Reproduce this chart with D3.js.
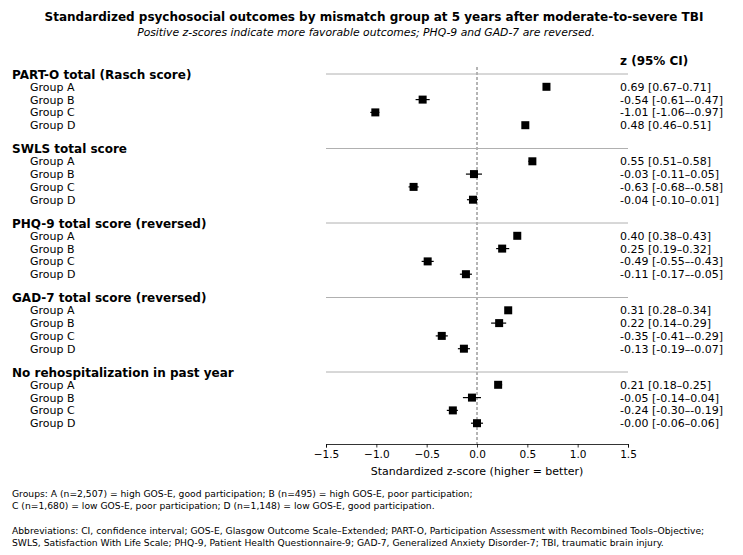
<!DOCTYPE html>
<html>
<head>
<meta charset="UTF-8">
<title>Forest plot</title>
<script src="https://cdn.jsdelivr.net/npm/d3@7"></script>
<style>
  body { margin: 0; background: #fff; }
  text { font-family: "DejaVu Sans", sans-serif; fill: #000; }
</style>
</head>
<body>
<div id="chart"></div>
<script>
var outcomes = ["PART-O total (Rasch score)", "SWLS total score", "PHQ-9 total score (reversed)",
  "GAD-7 total score (reversed)", "No rehospitalization in past year"];
var groups = ["Group A", "Group B", "Group C", "Group D"];
// z estimates per outcome, groups A-D
var zValues = [
  [0.69, -0.54, -1.01, 0.48],
  [0.55, -0.03, -0.63, -0.04],
  [0.40, 0.25, -0.49, -0.11],
  [0.31, 0.22, -0.35, -0.13],
  [0.21, -0.05, -0.24, -0.00]
];
var ciLow = [
  [0.67, -0.61, -1.06, 0.46],
  [0.51, -0.11, -0.68, -0.10],
  [0.38, 0.19, -0.55, -0.17],
  [0.28, 0.14, -0.41, -0.19],
  [0.18, -0.14, -0.30, -0.06]
];
var ciHigh = [
  [0.71, -0.47, -0.97, 0.51],
  [0.58, 0.05, -0.58, 0.01],
  [0.43, 0.32, -0.43, -0.05],
  [0.34, 0.29, -0.29, -0.07],
  [0.25, 0.04, -0.19, 0.06]
];
var xTicks = [-1.5, -1.0, -0.5, 0.0, 0.5, 1.0, 1.5];

var W = 743, H = 555;
var svg = d3.select("#chart").append("svg").attr("width", W).attr("height", H);

var x = d3.scaleLinear().domain([-1.5, 1.5]).range([326, 628]);
var sectionY = d3.scaleLinear().domain([0, 1]).range([74, 148.5]);
var rowStep = 12.8;

svg.append("text").attr("x", 374).attr("y", 21).attr("text-anchor", "middle")
  .style("font-weight", "bold").style("font-size", "12px")
  .text("Standardized psychosocial outcomes by mismatch group at 5 years after moderate-to-severe TBI");
svg.append("text").attr("x", 366).attr("y", 36).attr("text-anchor", "middle")
  .style("font-style", "italic").style("font-size", "10.8px")
  .text("Positive z-scores indicate more favorable outcomes; PHQ-9 and GAD-7 are reversed.");

svg.append("text").attr("x", 620).attr("y", 65).style("font-weight", "bold").style("font-size", "12px")
  .text("z (95% CI)");

// zero reference line
svg.append("line").attr("x1", x(0)).attr("x2", x(0)).attr("y1", 67).attr("y2", 444)
  .attr("stroke", "#444").attr("stroke-width", 0.8).attr("stroke-dasharray", "3,2");

outcomes.forEach(function(name, i) {
  var y0 = sectionY(i);
  svg.append("line").attr("x1", x(-1.5)).attr("x2", x(1.5)).attr("y1", y0).attr("y2", y0)
    .attr("stroke", "#b0b0b0").attr("stroke-width", 1);
  svg.append("text").attr("x", 12).attr("y", y0 + 4.5).style("font-weight", "bold").style("font-size", "12px").text(name);
  groups.forEach(function(g, j) {
    var y = y0 + rowStep * (j + 1);
    svg.append("text").attr("x", 30).attr("y", y + 4).style("font-size", "11px").text(g);
    svg.append("line").attr("x1", x(ciLow[i][j])).attr("x2", x(ciHigh[i][j])).attr("y1", y).attr("y2", y)
      .attr("stroke", "#000").attr("stroke-width", 1.2);
    svg.append("rect").attr("x", x(zValues[i][j]) - 4).attr("y", y - 4).attr("width", 8).attr("height", 8).attr("fill", "#000");
    var z = zValues[i][j];
    var zs = (i === 4 && j === 3) ? "-0.00" : z.toFixed(2);
    svg.append("text").attr("x", 620).attr("y", y + 4).style("font-size", "11px")
      .text(zs + " [" + ciLow[i][j].toFixed(2) + "\u2013" + ciHigh[i][j].toFixed(2) + "]");
  });
});

var axis = d3.axisBottom(x).tickValues(xTicks).tickSize(3.5).tickPadding(3.5)
  .tickFormat(function(d) { return d3.format(".1f")(d).replace("-", "\u2212"); });
var gAxis = svg.append("g").attr("transform", "translate(0,444)").call(axis);
gAxis.select(".domain").attr("stroke", "#000").attr("stroke-width", 0.8);
gAxis.selectAll(".tick line").attr("stroke", "#000").attr("stroke-width", 0.8);
gAxis.selectAll(".tick text").style("font-family", "DejaVu Sans").style("font-size", "10.5px").attr("fill", "#000");

svg.append("text").attr("x", x(0)).attr("y", 475).attr("text-anchor", "middle").style("font-size", "11px")
  .text("Standardized z-score (higher = better)");

var notes = [
  [12, 497, "Groups: A (n=2,507) = high GOS-E, good participation; B (n=495) = high GOS-E, poor participation;"],
  [12, 509, "C (n=1,680) = low GOS-E, poor participation; D (n=1,148) = low GOS-E, good participation."],
  [12, 534, "Abbreviations: CI, confidence interval; GOS-E, Glasgow Outcome Scale\u2013Extended; PART-O, Participation Assessment with Recombined Tools\u2013Objective;"],
  [12, 546, "SWLS, Satisfaction With Life Scale; PHQ-9, Patient Health Questionnaire-9; GAD-7, Generalized Anxiety Disorder-7; TBI, traumatic brain injury."]
];
svg.selectAll("text.note").data(notes).enter().append("text").attr("class", "note")
  .attr("x", function(d) { return d[0]; }).attr("y", function(d) { return d[1]; })
  .style("font-size", "9.2px").text(function(d) { return d[2]; });
</script>
</body>
</html>
